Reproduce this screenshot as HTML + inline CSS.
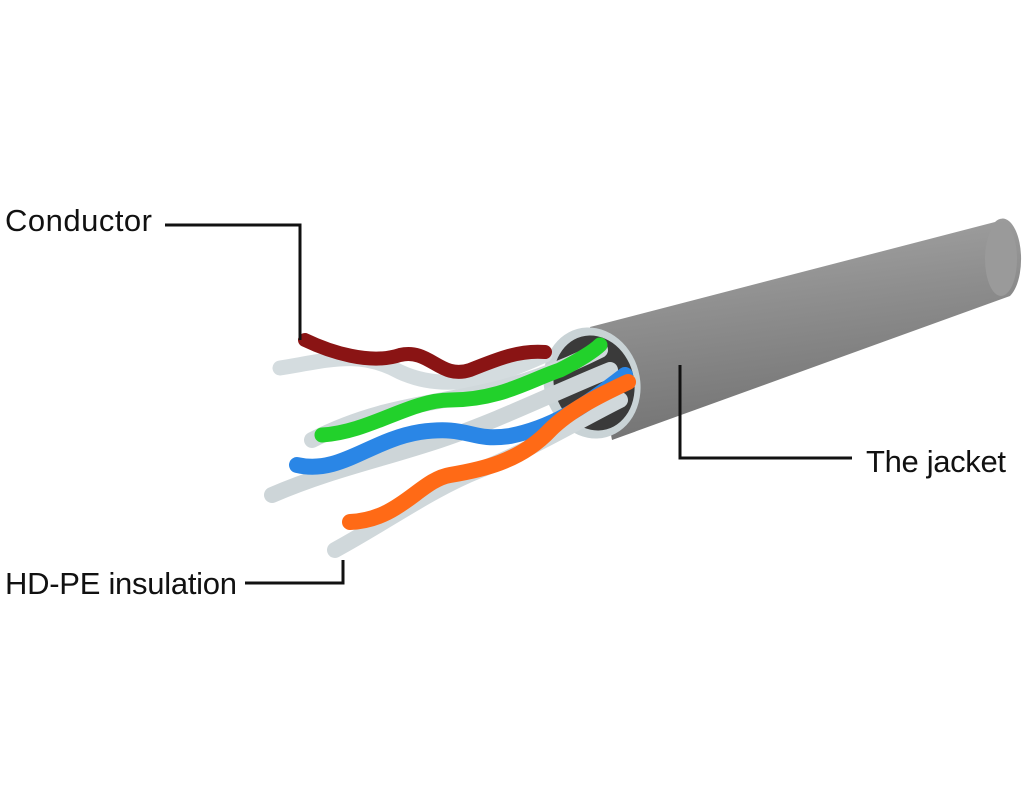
<!DOCTYPE html>
<html><head><style>
html,body{margin:0;padding:0;background:#fff;}
svg{display:block}
text{font-family:"Liberation Sans",sans-serif;font-size:31px;fill:#111}
</style></head><body>
<svg width="1024" height="800" viewBox="0 0 1024 800">
<defs>
<linearGradient id="jg" x1="0" y1="0" x2="0.25" y2="1">
<stop offset="0" stop-color="#a8a8a8"/><stop offset="0.45" stop-color="#8f8f8f"/><stop offset="1" stop-color="#737373"/>
</linearGradient>
</defs>
<rect width="1024" height="800" fill="#fff"/>
<path d="M590,327 L995,222 A17,37 0 0 1 1010,296 L612,440 Z" fill="url(#jg)"/>
<ellipse cx="1001" cy="259" rx="16" ry="37" fill="#9a9a9a"/>
<ellipse cx="592" cy="383" rx="48" ry="56" transform="rotate(-15 592 383)" fill="#c9d3d6"/>
<ellipse cx="594" cy="383" rx="40" ry="48" transform="rotate(-15 594 383)" fill="#3a3a3a"/>
<g fill="none" stroke-linecap="round">
<path d="M280,368 C330,360 360,350 400,372 C450,395 500,375 545,355" stroke="#d4dcdf" stroke-width="15"/>
<path d="M312,440 C370,410 420,405 470,395 C520,385 560,370 600,350" stroke="#d0d8db" stroke-width="16"/>
<path d="M272,495 C330,470 380,460 440,440 C500,420 560,390 610,370" stroke="#cdd5d8" stroke-width="16"/>
<path d="M335,550 C390,520 430,490 480,470 C530,450 580,420 620,400" stroke="#d0d8db" stroke-width="16"/>
<path d="M305,340 C330,352 370,365 400,355 C430,348 440,380 470,370 C500,358 520,350 545,352" stroke="#8a1414" stroke-width="14"/>
<path d="M322,435 C370,432 410,400 450,400 C500,400 530,380 560,370 C580,360 595,350 600,345" stroke="#22d12b" stroke-width="15"/>
<path d="M297,465 C340,475 370,440 420,432 C470,425 470,442 510,436 C550,428 580,410 625,375" stroke="#2a86e6" stroke-width="16"/>
<path d="M350,522 C400,520 420,480 450,475 C480,470 520,462 550,430 C570,410 600,395 628,382" stroke="#ff6a16" stroke-width="16"/>
</g>
<g fill="none" stroke="#111" stroke-width="3">
<path d="M165,225 H300 V340"/>
<path d="M680,365 V458 H852"/>
<path d="M245,583 H343 V560"/>
</g>
<text x="5" y="231" textLength="147">Conductor</text>
<text x="866" y="472" textLength="140">The jacket</text>
<text x="5" y="594" textLength="232">HD-PE insulation</text>
</svg>
</body></html>
